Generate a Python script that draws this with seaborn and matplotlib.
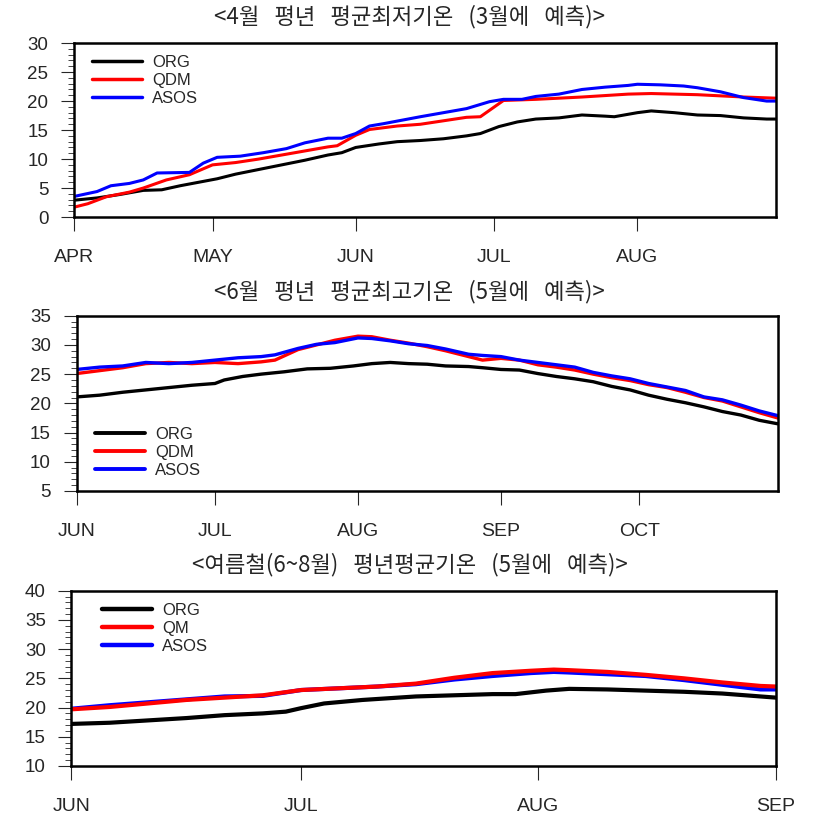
import numpy as np
import pandas as pd
import matplotlib.pyplot as plt
import matplotlib.ticker as mticker
import seaborn as sns

# ---- data (day offset from first month, value in degC) ----

# panel 1: April mean min temperature (forecast in March), Apr 1 .. Aug 31
p1_asos_day = [0, 5, 8, 12, 15, 18, 25, 28, 31, 36, 41, 46, 50, 55, 58, 61, 64, 67, 71, 75,
               80, 85, 90, 93, 97, 100, 105, 110, 115, 120, 122, 127, 132, 135, 140, 145, 150, 152]
p1_asos = [3.55, 4.4, 5.4, 5.8, 6.4, 7.6, 7.7, 9.3, 10.3, 10.5, 11.1, 11.8, 12.8, 13.6, 13.6, 14.4,
           15.7, 16.1, 16.7, 17.3, 18.0, 18.7, 19.9, 20.3, 20.3, 20.8, 21.2, 22.0, 22.4, 22.7, 22.9,
           22.8, 22.6, 22.3, 21.6, 20.6, 20.0, 20.0]
p1_qdm_day = [0, 3, 7, 12, 15, 20, 25, 30, 35, 40, 45, 50, 55, 57, 61, 64, 70, 75, 80, 85, 88, 93,
              100, 110, 120, 125, 135, 145, 152]
p1_qdm = [1.7, 2.3, 3.5, 4.3, 5.0, 6.4, 7.3, 9.0, 9.4, 10.0, 10.7, 11.4, 12.1, 12.3, 14.1, 15.1,
          15.7, 16.0, 16.6, 17.2, 17.3, 20.1, 20.3, 20.7, 21.2, 21.3, 21.1, 20.7, 20.5]
p1_org_day = [0, 5, 10, 15, 19, 23, 27, 31, 35, 40, 45, 50, 55, 58, 61, 66, 70, 75, 80, 85, 88, 92,
              96, 100, 105, 110, 115, 117, 122, 125, 130, 135, 140, 145, 150, 152]
p1_org = [2.9, 3.3, 3.9, 4.6, 4.7, 5.4, 6.0, 6.6, 7.4, 8.2, 9.0, 9.8, 10.7, 11.1, 12.0, 12.6, 13.0,
          13.2, 13.5, 14.0, 14.4, 15.6, 16.4, 16.9, 17.1, 17.6, 17.4, 17.3, 18.0, 18.3, 18.0, 17.6,
          17.5, 17.1, 16.9, 16.9]

# panel 2: June mean max temperature (forecast in May), Jun 1 .. Oct 31
p2_day = [0, 5, 10, 15, 20, 25, 30, 35, 40, 43, 48, 52, 56, 61, 64, 68, 72, 76, 80, 85, 88, 92,
          96, 100, 104, 108, 112, 116, 120, 124, 128, 132, 136, 140, 144, 148, 152]
p2_asos = [25.8, 26.2, 26.4, 27.0, 26.8, 27.0, 27.4, 27.8, 28.0, 28.3, 29.4, 30.1, 30.4, 31.2, 31.1,
           30.7, 30.2, 29.9, 29.3, 28.4, 28.2, 28.0, 27.4, 27.0, 26.6, 26.2, 25.3, 24.7, 24.2, 23.4,
           22.8, 22.2, 21.1, 20.6, 19.7, 18.7, 17.9]
p2_qdm = [25.1, 25.6, 26.1, 26.8, 27.0, 26.8, 27.0, 26.8, 27.1, 27.4, 29.2, 30.0, 30.8, 31.5, 31.4,
          30.8, 30.3, 29.7, 29.0, 28.0, 27.4, 27.7, 27.4, 26.6, 26.2, 25.7, 25.0, 24.4, 23.9, 23.2,
          22.7, 21.9, 21.0, 20.4, 19.4, 18.4, 17.5]
p2_org_day = [0, 5, 10, 15, 20, 25, 30, 32, 36, 40, 45, 50, 55, 60, 64, 68, 72, 76, 80, 85, 88, 92,
              96, 100, 104, 108, 112, 116, 120, 124, 128, 132, 136, 140, 144, 148, 152]
p2_org = [21.1, 21.4, 21.9, 22.3, 22.7, 23.1, 23.4, 24.0, 24.6, 25.0, 25.4, 25.9, 26.0, 26.4, 26.8,
          27.0, 26.8, 26.7, 26.4, 26.3, 26.1, 25.8, 25.7, 25.1, 24.6, 24.2, 23.7, 22.9, 22.3, 21.4,
          20.7, 20.1, 19.4, 18.6, 18.0, 17.1, 16.5]

# panel 3: summer (Jun-Aug) mean temperature (forecast in May), Jun 1 .. Sep 1
p3_day = [0, 5, 10, 15, 20, 25, 30, 35, 40, 45, 50, 55, 60, 63, 65, 70, 75, 80, 85, 90, 92]
p3_qm = [19.7, 20.1, 20.7, 21.3, 21.7, 22.1, 23.0, 23.3, 23.6, 24.1, 25.1, 25.9, 26.3, 26.5, 26.4,
         26.1, 25.6, 25.0, 24.3, 23.7, 23.6]
p3_asos = [19.8, 20.4, 20.9, 21.4, 21.9, 22.0, 23.0, 23.3, 23.6, 24.0, 24.8, 25.4, 25.9, 26.1, 26.0,
           25.7, 25.4, 24.7, 23.9, 23.1, 23.1]
p3_org_day = [0, 5, 10, 15, 20, 25, 28, 30, 33, 38, 45, 50, 55, 58, 62, 65, 70, 75, 80, 85, 90, 92]
p3_org = [17.2, 17.4, 17.8, 18.2, 18.7, 19.0, 19.3, 19.9, 20.7, 21.3, 21.9, 22.1, 22.3, 22.3, 22.9,
          23.2, 23.1, 22.9, 22.7, 22.4, 21.9, 21.7]

titles = ["<4월   평년   평균최저기온   (3월에   예측)>",
          "<6월   평년   평균최고기온   (5월에   예측)>",
          "<여름철(6~8월)   평년평균기온   (5월에   예측)>"]
month_pos = [[0, 30, 61, 91, 122], [0, 30, 61, 92, 122], [0, 30, 61, 92]]
month_lab = [["APR", "MAY", "JUN", "JUL", "AUG"],
             ["JUN", "JUL", "AUG", "SEP", "OCT"],
             ["JUN", "JUL", "AUG", "SEP"]]

sns.set_theme(style="ticks")
plt.rcParams["font.family"] = ["Liberation Sans", "DejaVu Sans"]

palette = {"ORG": "black", "QDM": "#ff0000", "QM": "#ff0000", "ASOS": "#0000ff"}


def long_df(parts):
    frames = []
    for name, days, vals in parts:
        frames.append(pd.DataFrame({"day": days, "val": vals, "src": name}))
    return pd.concat(frames, ignore_index=True)


panels = [
    long_df([("ORG", p1_org_day, p1_org), ("QDM", p1_qdm_day, p1_qdm), ("ASOS", p1_asos_day, p1_asos)]),
    long_df([("ORG", p2_org_day, p2_org), ("QDM", p2_day, p2_qdm), ("ASOS", p2_day, p2_asos)]),
    long_df([("ORG", p3_org_day, p3_org), ("ASOS", p3_day, p3_asos), ("QM", p3_day, p3_qm)]),
]
hue_orders = [["ORG", "QDM", "ASOS"], ["ORG", "QDM", "ASOS"], ["ORG", "ASOS", "QM"]]
legend_orders = [["ORG", "QDM", "ASOS"], ["ORG", "QDM", "ASOS"], ["ORG", "QM", "ASOS"]]

boxes = [[0.0901, 0.734, 0.855, 0.2132],
         [0.0933, 0.3983, 0.854, 0.2148],
         [0.0870, 0.0613, 0.858, 0.2148]]
ylims = [(0, 30), (5, 35), (10, 40)]
xlims = [(0, 152), (0, 152), (0, 92)]
lws = [2.2, 2.4, 3.0]
leg_lw = [2.5, 2.8, 3.2]
leg_anchor = [(0.026, 0.93), (0.026, 0.367), (0.044, 0.93)]
title_y = [17, 292, 565]

fig = plt.figure(figsize=(8.21, 8.16), dpi=100)

for i in range(3):
    ax = fig.add_axes(boxes[i])
    sns.lineplot(data=panels[i], x="day", y="val", hue="src", hue_order=hue_orders[i],
                 palette=palette, linewidth=lws[i], ax=ax, legend=False)
    ax.set_xlim(*xlims[i])
    ax.set_ylim(*ylims[i])
    ax.set_xlabel("")
    ax.set_ylabel("")
    ax.set_xticks(month_pos[i])
    ax.set_xticklabels(month_lab[i])
    ax.yaxis.set_major_locator(mticker.MultipleLocator(5))
    ax.yaxis.set_minor_locator(mticker.MultipleLocator(1))
    ax.tick_params(axis="x", direction="out", length=10, width=0.8, pad=13, labelsize=14)
    ax.tick_params(axis="y", which="major", direction="out", length=9.5, width=0.8, pad=9, labelsize=13.5)
    ax.tick_params(axis="y", which="minor", direction="out", length=4, width=0.6)
    for s in ax.spines.values():
        s.set_visible(True)
        s.set_linewidth(1.8)
        s.set_color("black")

    handles = [plt.Line2D([], [], color=palette[n], linewidth=leg_lw[i]) for n in legend_orders[i]]
    ax.legend(handles, legend_orders[i], loc="upper left", bbox_to_anchor=leg_anchor[i],
              frameon=False, borderaxespad=0, borderpad=0, handlelength=3.0,
              handletextpad=0.6, labelspacing=0.18,
              prop={"family": ["Liberation Sans", "DejaVu Sans"], "size": 12})

    fig.text(0.499, 1 - title_y[i] / 816, titles[i], ha="center", va="center",
             fontsize=16, family=["Noto Sans CJK KR", "DejaVu Sans"])

fig.savefig("out.png", dpi=100)
